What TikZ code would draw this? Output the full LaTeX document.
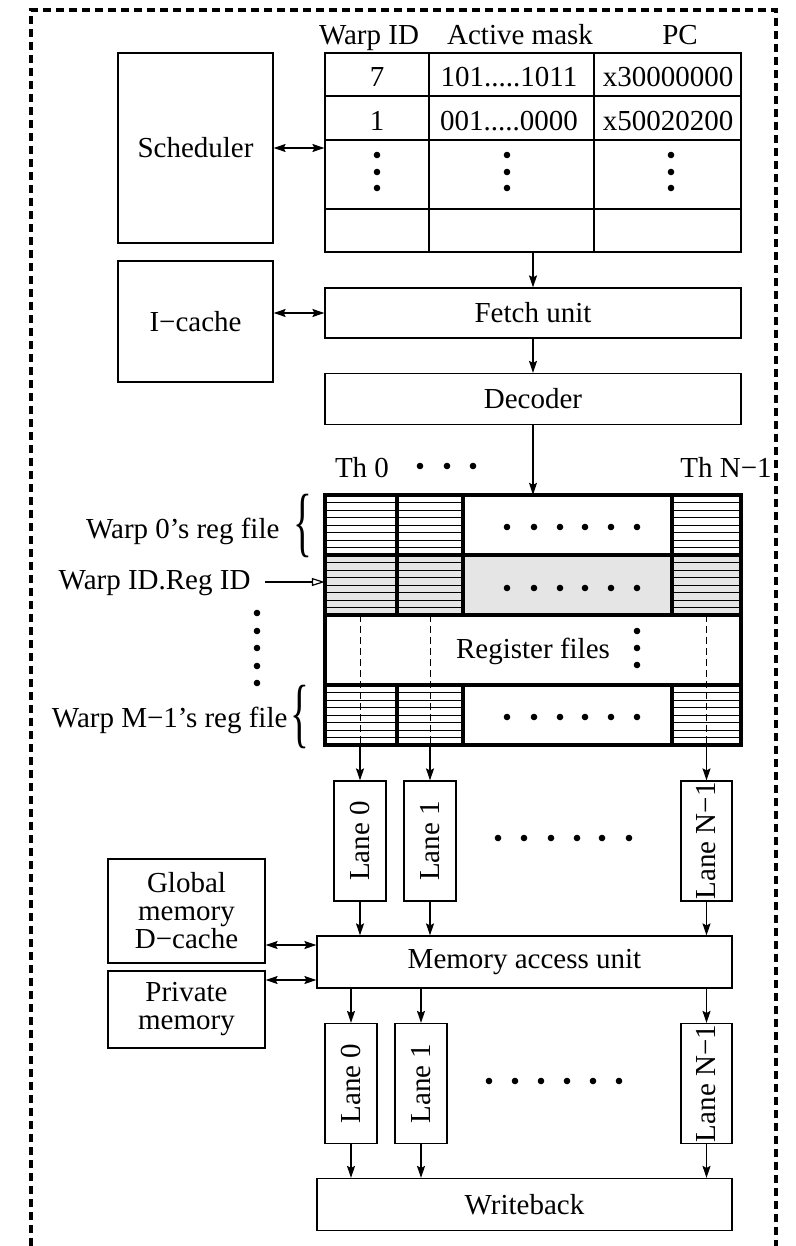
\documentclass[tikz,border=0pt]{standalone}
\usepackage{fontspec}
\setmainfont{Liberation Serif}
\usepackage{graphicx}
\usetikzlibrary{arrows.meta,decorations.pathreplacing,calc}
\newcommand\myfs{\fontsize{29}{28}\selectfont}
\begin{document}
\begin{tikzpicture}[x=1pt,y=-1pt,
  every node/.style={font=\myfs},
  box/.style={draw, line width=1.2pt, inner sep=0pt, align=center},
  lane/.style={box, minimum width=52pt, minimum height=120pt},
  arr/.style={-{Stealth[length=12pt,width=8pt,inset=2pt]}, line width=1.2pt},
  darr/.style={{Stealth[length=12pt,width=8pt,inset=2pt]}-{Stealth[length=12pt,width=8pt,inset=2pt]}, line width=1.2pt},
  oarr/.style={-{Triangle[open,length=13pt,width=8pt]}, line width=1.2pt},
  tline/.style={line width=1.2pt},
  rfl/.style={line width=3.5pt},
  hatch/.style={line width=0.9pt},
  dline/.style={line width=0.9pt, dash pattern=on 7pt off 4pt},
  brc/.style={inner sep=0pt},
]
\useasboundingbox (0,0) rectangle (795,1246);

% outer dashed border
\draw[line width=3.5pt, dash pattern=on 8pt off 5pt] (31,1246) -- (31,10) -- (776,10) -- (776,1246);

% Scheduler and warp table
\node[box, minimum width=155pt, minimum height=190pt] (sched) at (195.5,148) {Scheduler};
\node[box, minimum width=416pt, minimum height=199pt] (tbl) at (533,152.5) {};
\draw[tline] (325,96) -- (741,96);
\draw[tline] (325,140) -- (741,140);
\draw[tline] (325,209) -- (741,209);
\draw[tline] (429,53) -- (429,252);
\draw[tline] (594,53) -- (594,252);
\node[anchor=base] (h1) at (369,45) {Warp ID};
\node[anchor=base] (h2) at (520,45) {Active mask};
\node[anchor=base] (h3) at (680,45) {PC};
\node[anchor=base] (c11) at (377,87) {7};
\node[anchor=base] (c12) at (509,87) {101.....1011};
\node[anchor=base] (c13) at (668,87) {x30000000};
\node[anchor=base] (c21) at (377,131) {1};
\node[anchor=base] (c22) at (509,131) {001.....0000};
\node[anchor=base] (c23) at (668,131) {x50020200};
\foreach \xx in {377,507,671} \foreach \yy in {155,172,188} \fill (\xx,\yy) circle (3.3pt);
\draw[darr] (sched.east) -- (tbl.west |- sched.east);

% I-cache, fetch, decoder
\node[box, minimum width=155pt, minimum height=121pt] (icache) at (195.5,321.5) {I−cache};
\node[box, minimum width=416pt, minimum height=50pt] (fetch) at (533,313) {Fetch unit};
\node[box, minimum width=416pt, minimum height=51pt] (dec) at (533,399) {Decoder};
\draw[darr] (icache.east |- fetch.west) -- (fetch.west);
\draw[arr] (tbl.south) -- (fetch.north);
\draw[arr] (fetch.south) -- (dec.north);

% register files
\node[minimum width=416pt, minimum height=250pt, inner sep=0pt] (rf) at (533,620) {};
\draw[arr] (dec.south) -- (rf.north);
\fill[black!10] (325,555) rectangle (741,615);
\foreach \yy in {495,555,685} \foreach \ll/\rr in {325/397,397/463,672/741} \foreach \kk in {1,...,7}
  \draw[hatch] (\ll,\yy+\kk*7.5) -- (\rr,\yy+\kk*7.5);
\foreach \xx in {360,430,706} \draw[dline] (\xx,615) -- (\xx,745);
\draw[rfl] (325,495) rectangle (741,745);
\draw[rfl] (325,555) -- (741,555);
\draw[rfl] (325,615) -- (741,615);
\draw[rfl] (325,685) -- (741,685);
\foreach \xx in {397,463,672} {\draw[rfl] (\xx,495) -- (\xx,615); \draw[rfl] (\xx,685) -- (\xx,745);}
\foreach \yy in {527,588,717} \foreach \xx in {507,534,560,585,611,637} \fill (\xx,\yy) circle (3.3pt);
\node (rftxt) at (533,651) {Register files};
\foreach \yy in {631,648,665} \fill (637,\yy) circle (3.3pt);

\node[anchor=base] (th0) at (362,477) {Th 0};
\node[anchor=base] (thn) at (726,477) {Th N−1};
\foreach \xx in {420,447,473} \fill (\xx,466) circle (3.3pt);

% left labels
\node[anchor=base east] (w0) at (283,538) {Warp 0’s reg file};
\node[anchor=base east] (wid) at (254,589) {Warp ID.Reg ID};
\node[anchor=base east] (wm) at (291,727) {Warp M−1’s reg file};
\node[brc] (br0) at (303,526) {\scalebox{1.35}[2.65]{\{}};
\node[brc] (br1) at (300,716.5) {\scalebox{1.35}[2.65]{\{}};
\draw[oarr] (265,582) -- (rf.west |- 0,582);
\foreach \yy in {613,631,648,666,683} \fill (257,\yy) circle (3.3pt);

% execution lanes
\node[lane] (la0) at (360,841) {\rotatebox{90}{Lane 0}};
\node[lane] (la1) at (430,841) {\rotatebox{90}{Lane 1}};
\node[lane, minimum width=51pt] (lan) at (706.5,841) {\rotatebox{90}{Lane N−1}};
\foreach \xx in {498,524,551,577,602,629} \fill (\xx,838) circle (3.3pt);
\draw[arr] (la0.north |- rf.south) -- (la0.north);
\draw[arr] (la1.north |- rf.south) -- (la1.north);
\draw[arr] (lan.north |- rf.south) -- (lan.north);

% memory access
\node[box, minimum width=415pt, minimum height=52pt] (mau) at (524.5,962) {Memory access unit};
\node[box, minimum width=157pt, minimum height=104pt] (gm) at (186.5,911) {Global\\memory\\D−cache};
\node[box, minimum width=157pt, minimum height=77pt] (pm) at (186.5,1009.5) {Private\\memory};
\draw[arr] (la0.south) -- (la0.south |- mau.north);
\draw[arr] (la1.south) -- (la1.south |- mau.north);
\draw[arr] (lan.south) -- (lan.south |- mau.north);
\draw[darr] (gm.east |- 0,945) -- (mau.west |- 0,945);
\draw[darr] (pm.east |- 0,980) -- (mau.west |- 0,980);

% writeback lanes
\node[lane] (lb0) at (351,1083.5) {\rotatebox{90}{Lane 0}};
\node[lane] (lb1) at (421,1083.5) {\rotatebox{90}{Lane 1}};
\node[lane, minimum width=51pt] (lbn) at (706.5,1083.5) {\rotatebox{90}{Lane N−1}};
\foreach \xx in {489,515,541,567,593,619} \fill (\xx,1081) circle (3.3pt);
\draw[arr] (lb0.north |- mau.south) -- (lb0.north);
\draw[arr] (lb1.north |- mau.south) -- (lb1.north);
\draw[arr] (lbn.north |- mau.south) -- (lbn.north);
\node[box, minimum width=415pt, minimum height=52pt] (wb) at (524.5,1204.5) {Writeback};
\draw[arr] (lb0.south) -- (lb0.south |- wb.north);
\draw[arr] (lb1.south) -- (lb1.south |- wb.north);
\draw[arr] (lbn.south) -- (lbn.south |- wb.north);
\end{tikzpicture}
\end{document}
